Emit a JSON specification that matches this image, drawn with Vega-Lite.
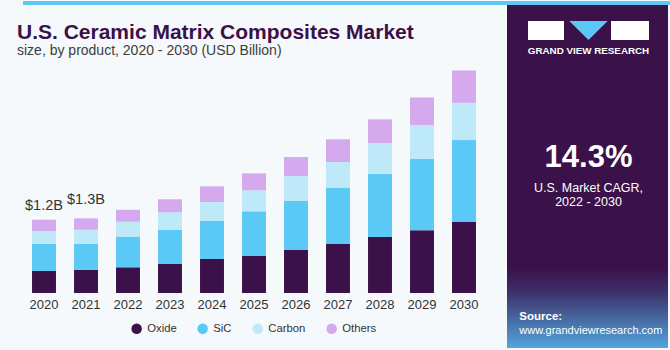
{
  "$schema": "https://vega.github.io/schema/vega-lite/v6.json",
  "padding": {"left": 0, "top": 0, "right": 3, "bottom": 3},
  "background": "#f5f9fc",
  "config": {"view": {"stroke": null}, "font": "Liberation Sans"},
  "spacing": 0,
  "vconcat": [
    {
      "width": 667,
      "height": 4,
      "view": {"fill": "#5bc8f5", "stroke": null},
      "data": {"values": [{}]},
      "mark": {"type": "rule", "opacity": 0},
      "encoding": {}
    },
    {
      "spacing": 21,
      "hconcat": [
        {
          "width": 462,
          "height": 232,
          "title": {
            "text": ["", "U.S. Ceramic Matrix Composites Market"],
            "subtitle": "size, by product, 2020 - 2030 (USD Billion)",
            "anchor": "start",
            "frame": "group",
            "dx": -6,
            "font": "Liberation Sans",
            "fontSize": 21,
            "fontWeight": "bold",
            "color": "#3a1148",
            "lineHeight": 16,
            "subtitleFont": "Liberation Sans",
            "subtitleFontSize": 14,
            "subtitleColor": "#3d3d3d",
            "subtitlePadding": 1,
            "offset": 3
          },
          "data": {
            "values": [
              {"year": "2020", "product": "Oxide", "value": 0.36},
              {"year": "2020", "product": "SiC", "value": 0.447},
              {"year": "2020", "product": "Carbon", "value": 0.208},
              {"year": "2020", "product": "Others", "value": 0.185},
              {"year": "2021", "product": "Oxide", "value": 0.381},
              {"year": "2021", "product": "SiC", "value": 0.426},
              {"year": "2021", "product": "Carbon", "value": 0.229},
              {"year": "2021", "product": "Others", "value": 0.187},
              {"year": "2022", "product": "Oxide", "value": 0.421},
              {"year": "2022", "product": "SiC", "value": 0.496},
              {"year": "2022", "product": "Carbon", "value": 0.25},
              {"year": "2022", "product": "Others", "value": 0.196},
              {"year": "2023", "product": "Oxide", "value": 0.48},
              {"year": "2023", "product": "SiC", "value": 0.552},
              {"year": "2023", "product": "Carbon", "value": 0.29},
              {"year": "2023", "product": "Others", "value": 0.213},
              {"year": "2024", "product": "Oxide", "value": 0.557},
              {"year": "2024", "product": "SiC", "value": 0.622},
              {"year": "2024", "product": "Carbon", "value": 0.311},
              {"year": "2024", "product": "Others", "value": 0.257},
              {"year": "2025", "product": "Oxide", "value": 0.611},
              {"year": "2025", "product": "SiC", "value": 0.727},
              {"year": "2025", "product": "Carbon", "value": 0.344},
              {"year": "2025", "product": "Others", "value": 0.278},
              {"year": "2026", "product": "Oxide", "value": 0.704},
              {"year": "2026", "product": "SiC", "value": 0.802},
              {"year": "2026", "product": "Carbon", "value": 0.409},
              {"year": "2026", "product": "Others", "value": 0.311},
              {"year": "2027", "product": "Oxide", "value": 0.802},
              {"year": "2027", "product": "SiC", "value": 0.917},
              {"year": "2027", "product": "Carbon", "value": 0.426},
              {"year": "2027", "product": "Others", "value": 0.372},
              {"year": "2028", "product": "Oxide", "value": 0.917},
              {"year": "2028", "product": "SiC", "value": 1.036},
              {"year": "2028", "product": "Carbon", "value": 0.503},
              {"year": "2028", "product": "Others", "value": 0.388},
              {"year": "2029", "product": "Oxide", "value": 1.026},
              {"year": "2029", "product": "SiC", "value": 1.172},
              {"year": "2029", "product": "Carbon", "value": 0.552},
              {"year": "2029", "product": "Others", "value": 0.453},
              {"year": "2030", "product": "Oxide", "value": 1.162},
              {"year": "2030", "product": "SiC", "value": 1.342},
              {"year": "2030", "product": "Carbon", "value": 0.611},
              {"year": "2030", "product": "Others", "value": 0.53}
            ]
          },
          "layer": [
            {
              "transform": [
                {"calculate": "indexof(['Oxide','SiC','Carbon','Others'], datum.product)", "as": "stackOrder"}
              ],
              "mark": {"type": "bar"},
              "encoding": {
                "x": {
                  "field": "year",
                  "type": "ordinal",
                  "scale": {"paddingInner": 0.43, "paddingOuter": 0.215},
                  "axis": {
                    "title": null,
                    "domain": false,
                    "ticks": false,
                    "labelAngle": 0,
                    "labelFont": "Liberation Sans",
                    "labelFontSize": 13,
                    "labelColor": "#333333",
                    "labelPadding": 5
                  }
                },
                "y": {
                  "field": "value",
                  "type": "quantitative",
                  "stack": "zero",
                  "scale": {"domain": [0, 3.8], "nice": false},
                  "axis": {
                    "title": null,
                    "domain": false,
                    "ticks": false,
                    "labels": false,
                    "grid": false,
                    "minExtent": 23,
                    "maxExtent": 23
                  }
                },
                "order": {"field": "stackOrder", "type": "quantitative", "sort": "ascending"},
                "color": {
                  "field": "product",
                  "type": "nominal",
                  "sort": ["Oxide", "SiC", "Carbon", "Others"],
                  "scale": {
                    "domain": ["Oxide", "SiC", "Carbon", "Others"],
                    "range": ["#3a1148", "#5bc9f5", "#bde9f9", "#d5a9ed"]
                  },
                  "legend": {
                    "title": null,
                    "orient": "none",
                    "legendX": 108,
                    "legendY": 322,
                    "direction": "horizontal",
                    "symbolType": "circle",
                    "symbolSize": 110,
                    "symbolStrokeWidth": 0,
                    "labelFont": "Liberation Sans",
                    "labelFontSize": 11.3,
                    "labelColor": "#333333",
                    "labelOffset": 5,
                    "columnPadding": 20
                  }
                }
              }
            },
            {
              "data": {
                "values": [
                  {"year": "2020", "total": 1.2, "label": "$1.2B"},
                  {"year": "2021", "total": 1.3, "label": "$1.3B"}
                ]
              },
              "mark": {"type": "text", "dy": -10, "baseline": "alphabetic", "font": "Liberation Sans", "fontSize": 14.5, "color": "#333333"},
              "encoding": {
                "x": {"field": "year", "type": "ordinal"},
                "y": {"field": "total", "type": "quantitative"},
                "text": {"field": "label"}
              }
            }
          ]
        },
        {
          "width": 161,
          "height": 287,
          "data": {"values": [{}]},
          "layer": [
            {"mark": {"type": "rect", "x": 0, "x2": 161, "y": -56, "y2": 287, "color": "#3a1148"}, "encoding": {}},
            {
              "mark": {
                "type": "rect", "x": 0, "x2": 161, "y": 206, "y2": 287,
                "color": {"gradient": "linear", "x1": 0, "y1": 0, "x2": 0, "y2": 1,
                  "stops": [
                    {"offset": 0, "color": "#3a1148"},
                    {"offset": 0.3, "color": "#3d2e68"},
                    {"offset": 1, "color": "#52a6dc"}
                  ]}
              },
              "encoding": {}
            },
            {"mark": {"type": "rect", "x": 21, "x2": 57, "y": -40, "y2": -21, "color": "#ffffff"}, "encoding": {}},
            {"mark": {"type": "rect", "x": 104, "x2": 142, "y": -40, "y2": -21, "color": "#ffffff"}, "encoding": {}},
            {"mark": {"type": "rule", "x": 37.5, "x2": 57, "y": -30, "y2": -30, "color": "#3a1148", "strokeWidth": 1.5}, "encoding": {}},
            {"mark": {"type": "rule", "x": 37.5, "x2": 37.5, "y": -30, "y2": -25, "color": "#3a1148", "strokeWidth": 1.5}, "encoding": {}},
            {"mark": {"type": "rule", "x": 127, "x2": 142, "y": -30, "y2": -25, "color": "#3a1148", "strokeWidth": 1.5}, "encoding": {}},
            {"mark": {"type": "point", "shape": "M-1,-0.5L1,-0.5L0,0.5Z", "filled": true, "opacity": 1, "color": "#5bc8f5", "size": 1475, "x": 81.5, "y": -30.5}, "encoding": {}},
            {"mark": {"type": "text", "text": "GRAND VIEW RESEARCH", "x": 81.5, "y": -6.7, "align": "center", "baseline": "alphabetic", "font": "Liberation Sans", "fontSize": 9.8, "fontWeight": "bold", "color": "#ffffff"}, "encoding": {}},
            {"mark": {"type": "text", "text": "14.3%", "x": 81.5, "y": 105.7, "align": "center", "baseline": "alphabetic", "font": "Liberation Sans", "fontSize": 31, "fontWeight": "bold", "color": "#ffffff"}, "encoding": {}},
            {"mark": {"type": "rule", "x": 28, "x2": 134, "y": 113.3, "y2": 113.3, "color": "#c9bfd6", "strokeWidth": 1}, "encoding": {}},
            {"mark": {"type": "text", "text": "U.S. Market CAGR,", "x": 81.5, "y": 130.7, "align": "center", "baseline": "alphabetic", "font": "Liberation Sans", "fontSize": 12.5, "color": "#ffffff"}, "encoding": {}},
            {"mark": {"type": "text", "text": "2022 - 2030", "x": 81.5, "y": 145, "align": "center", "baseline": "alphabetic", "font": "Liberation Sans", "fontSize": 12.5, "color": "#ffffff"}, "encoding": {}},
            {"mark": {"type": "text", "text": "Source:", "x": 12.3, "y": 259.3, "align": "left", "baseline": "alphabetic", "font": "Liberation Sans", "fontSize": 11.5, "fontWeight": "bold", "color": "#ffffff"}, "encoding": {}},
            {"mark": {"type": "text", "text": "www.grandviewresearch.com", "x": 12.3, "y": 273.3, "align": "left", "baseline": "alphabetic", "font": "Liberation Sans", "fontSize": 11, "color": "#ffffff"}, "encoding": {}}
          ]
        }
      ]
    }
  ]
}
